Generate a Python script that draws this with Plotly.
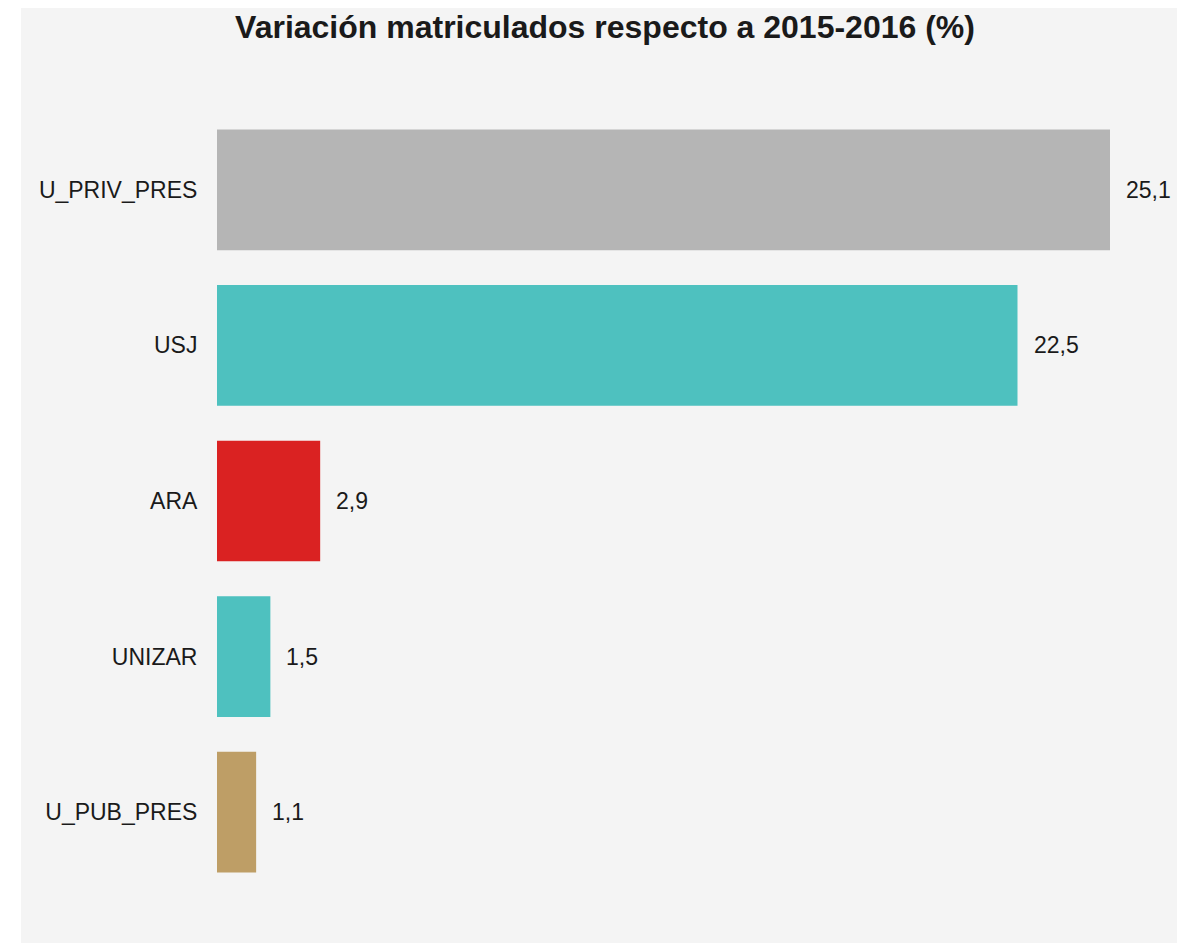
import plotly.graph_objects as go

categories = ["U_PRIV_PRES", "USJ", "ARA", "UNIZAR", "U_PUB_PRES"]
values = [25.1, 22.5, 2.9, 1.5, 1.1]
colors = ["#b5b5b5", "#4ec1bf", "#da2222", "#4ec1bf", "#be9e66"]
title_text = "Variación matriculados respecto a 2015-2016 (%)"

W, H = 1177, 935
L, R, T, B = 209, 20, 104, 53
pw = W - L - R
ph = H - T - B
scale = 893 / 25.1  # px per unit
xmax = pw / scale

font_family = "Arial, Liberation Sans, sans-serif"
txt_color = "#1a1a1a"

fig = go.Figure()
fig.add_trace(go.Bar(
    x=values, y=categories, orientation="h",
    marker=dict(color=colors, line=dict(width=0)),
    hoverinfo="skip",
))

for c, v in zip(categories, values):
    fig.add_annotation(
        x=v, y=c, xref="x", yref="y",
        text=f"{v:.1f}".replace(".", ","),
        showarrow=False, xanchor="left", yanchor="middle",
        xshift=14, font=dict(size=23, color=txt_color, family=font_family),
    )

# white strip at the left edge of the page
fig.add_shape(
    type="rect", xref="paper", yref="paper", layer="below",
    x0=(0 - L) / pw - 0.01, x1=(13 - L) / pw,
    y0=-(B + 5) / ph, y1=(ph + T + 5) / ph,
    fillcolor="white", line=dict(width=0),
)

fig.update_layout(
    width=W, height=H,
    margin=dict(l=L, r=R, t=T, b=B, pad=0),
    paper_bgcolor="#f4f4f4",
    plot_bgcolor="#f4f4f4",
    separators=",.",
    bargap=0.224,
    showlegend=False,
    font=dict(family=font_family, color=txt_color, size=23),
    title=dict(
        text="<b>" + title_text + "</b>",
        x=597 / W, xanchor="center", xref="container",
        y=1 - 19 / H, yanchor="middle", yref="container",
        font=dict(size=32, color=txt_color, family=font_family),
    ),
    xaxis=dict(range=[0, xmax], showgrid=False, zeroline=False,
               showticklabels=False, showline=False, ticks=""),
    yaxis=dict(categoryorder="array", categoryarray=categories,
               autorange="reversed", showgrid=False, zeroline=False,
               showline=False, ticks="outside", ticklen=14,
               tickcolor="rgba(0,0,0,0)",
               tickfont=dict(size=23, color=txt_color, family=font_family)),
)

fig.write_html("out.html")
